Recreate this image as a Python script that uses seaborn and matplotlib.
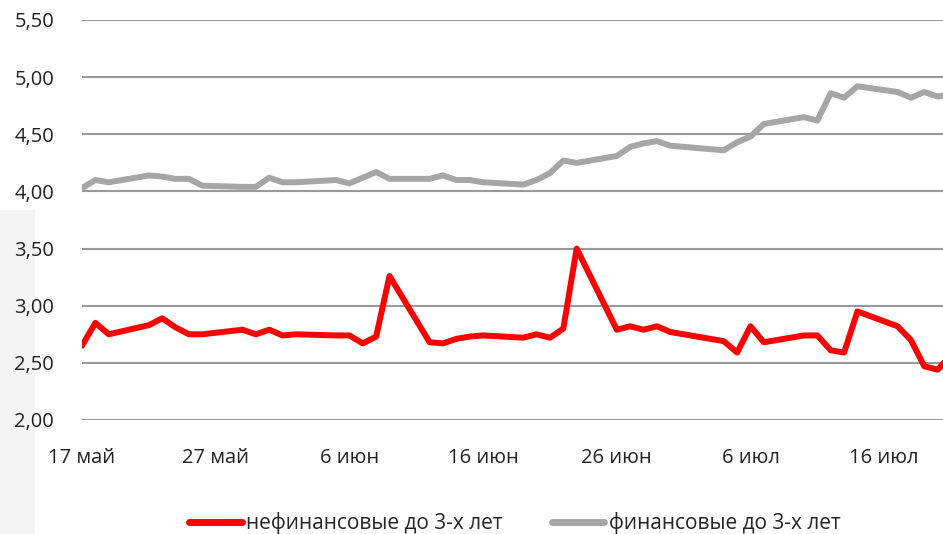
import matplotlib
matplotlib.use("Agg")
import matplotlib.pyplot as plt
import matplotlib.dates as mdates
from matplotlib.patches import Rectangle
from matplotlib.lines import Line2D
import pandas as pd
import seaborn as sns

dates = ["2017-05-17", "2017-05-18", "2017-05-19", "2017-05-22", "2017-05-23", "2017-05-24",
         "2017-05-25", "2017-05-26", "2017-05-29", "2017-05-30", "2017-05-31", "2017-06-01",
         "2017-06-02", "2017-06-05", "2017-06-06", "2017-06-07", "2017-06-08", "2017-06-09",
         "2017-06-12", "2017-06-13", "2017-06-14", "2017-06-15", "2017-06-16", "2017-06-19",
         "2017-06-20", "2017-06-21", "2017-06-22", "2017-06-23", "2017-06-26", "2017-06-27",
         "2017-06-28", "2017-06-29", "2017-06-30", "2017-07-04", "2017-07-05", "2017-07-06",
         "2017-07-07", "2017-07-10", "2017-07-11", "2017-07-12", "2017-07-13", "2017-07-14",
         "2017-07-17", "2017-07-18", "2017-07-19", "2017-07-20", "2017-07-21"]

nonfin = [2.65, 2.85, 2.75, 2.83, 2.89, 2.81, 2.75, 2.75, 2.79, 2.75, 2.79, 2.74,
          2.75, 2.74, 2.74, 2.67, 2.73, 3.26, 2.68, 2.67, 2.71, 2.73, 2.74, 2.72,
          2.75, 2.72, 2.80, 3.50, 2.79, 2.82, 2.79, 2.82, 2.77, 2.69, 2.59, 2.82,
          2.68, 2.74, 2.74, 2.61, 2.59, 2.95, 2.82, 2.70, 2.47, 2.44, 2.57]

fin = [4.03, 4.10, 4.08, 4.14, 4.13, 4.11, 4.11, 4.05, 4.04, 4.04, 4.12, 4.08,
       4.08, 4.10, 4.07, 4.12, 4.17, 4.11, 4.11, 4.14, 4.10, 4.10, 4.08, 4.06,
       4.10, 4.16, 4.27, 4.25, 4.31, 4.39, 4.42, 4.44, 4.40, 4.36, 4.43, 4.48,
       4.59, 4.65, 4.62, 4.86, 4.82, 4.92, 4.87, 4.82, 4.87, 4.83, 4.85]

series_names = ["нефинансовые до 3-х лет", "финансовые до 3-х лет"]
series_colors = ["#ff0000", "#a6a6a6"]

tick_dates = ["2017-05-17", "2017-05-27", "2017-06-06", "2017-06-16",
              "2017-06-26", "2017-07-06", "2017-07-16"]
tick_labels = ["17 май", "27 май", "6 июн", "16 июн", "26 июн", "6 июл", "16 июл"]
y_ticks = [2.0, 2.5, 3.0, 3.5, 4.0, 4.5, 5.0, 5.5]

sns.set_style("white")
plt.rcParams["font.family"] = ["Open Sans", "DejaVu Sans"]

df = pd.DataFrame({
    "date": pd.to_datetime(dates * 2),
    "value": nonfin + fin,
    "series": [series_names[0]] * len(dates) + [series_names[1]] * len(dates),
})

fig = plt.figure(figsize=(9.43, 5.34), dpi=100)
fig.patches.append(Rectangle((0, 0), 35 / 943, 1 - 210 / 534, transform=fig.transFigure,
                             facecolor="#f4f4f4", edgecolor="none", zorder=-5))
ax = fig.add_axes([82 / 943, 1 - 420 / 534, 1 - 82 / 943, (420 - 20) / 534])
ax.set_facecolor("none")

sns.lineplot(data=df, x="date", y="value", hue="series", hue_order=series_names,
             palette=series_colors, linewidth=4.3, ax=ax, legend=False)

ax.set_ylim(2.0, 5.5)
ax.set_yticks(y_ticks)
ax.set_yticklabels([f"{v:.2f}".replace(".", ",") for v in y_ticks])
start = pd.Timestamp("2017-05-17")
ax.set_xlim(mdates.date2num(start), mdates.date2num(start) + 64.4)
ax.set_xticks(mdates.date2num(pd.to_datetime(tick_dates)))
ax.set_xticklabels(tick_labels)
ax.grid(axis="y", color="#999999", linewidth=1.5)
ax.grid(axis="x", visible=False)
for s in ax.spines.values():
    s.set_visible(False)
ax.tick_params(axis="y", length=0, pad=20, labelsize=14.5, labelcolor="#222222")
ax.tick_params(axis="x", length=0, pad=20, labelsize=14.5, labelcolor="#222222")
ax.set_xlabel("")
ax.set_ylabel("")

handles = [Line2D([0], [0], color=c, linewidth=5) for c in series_colors]
fig.legend(handles, series_names, loc="center", bbox_to_anchor=(0.546, 1 - 523 / 534),
           ncol=2, frameon=False, fontsize=15, handlelength=2.5, handletextpad=0.2,
           columnspacing=2.4)

fig.savefig("out.png", dpi=100)
